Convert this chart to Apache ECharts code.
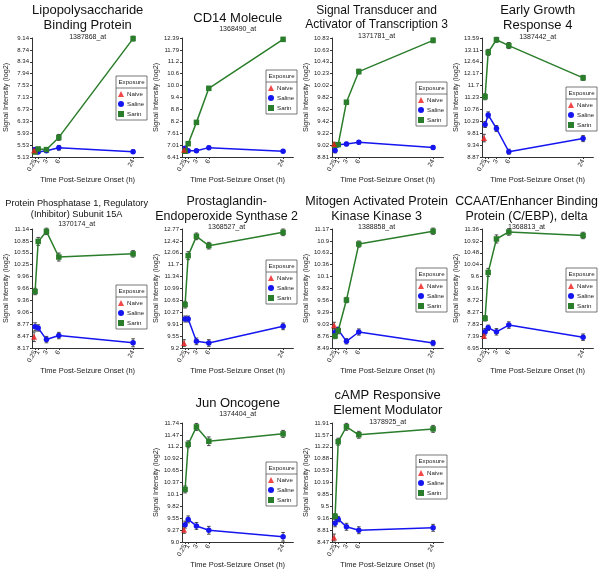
<!DOCTYPE html>
<html><head><meta charset="utf-8">
<script src="https://cdn.jsdelivr.net/npm/echarts@6/dist/echarts.min.js"></script>
<style>html,body{margin:0;padding:0;background:#fff}#c{width:600px;height:574px}</style>
</head><body><div id="c"></div>
<script>
// ---- shared x data ----
const naiveTimes = [0];
const groupTimes = [0.25, 1, 3, 6, 24];
const xTickValues = [0, 0.25, 1, 3, 6, 24];
const xTickLabels = ['0', '0.25', '1', '3', '6', '24'];
const seriesNames = ['Naive', 'Saline', 'Sarin'];

// ---- Panel 1: Lipopolysaccharide Binding Protein ----
const lbpTicks = ['5.13','5.53','5.93','6.33','6.73','7.13','7.53','7.94','8.34','8.74','9.14'];
const lbpNaive = [5.36];
const lbpSaline = [5.38, 5.30, 5.34, 5.44, 5.31];
const lbpSarin = [5.30, 5.40, 5.38, 5.79, 9.12];
const lbpNaiveErr = [0.06];
const lbpSalineErr = [0.06, 0.05, 0.05, 0.08, 0.06];
const lbpSarinErr = [0.06, 0.06, 0.06, 0.10, 0.08];

// ---- Panel 2: CD14 Molecule ----
const cd14Ticks = ['6.41','7.01','7.61','8.2','8.8','9.4','10.0','10.6','11.2','11.79','12.39'];
const cd14Naive = [6.78];
const cd14Saline = [6.85, 6.72, 6.72, 6.88, 6.70];
const cd14Sarin = [6.70, 7.08, 8.15, 9.86, 12.32];
const cd14NaiveErr = [0.08];
const cd14SalineErr = [0.08, 0.06, 0.06, 0.08, 0.07];
const cd14SarinErr = [0.08, 0.08, 0.08, 0.10, 0.10];

// ---- Panel 3: STAT3 ----
const stat3Ticks = ['8.81','9.02','9.22','9.42','9.62','9.82','10.02','10.23','10.43','10.63','10.83'];
const stat3Naive = [9.03];
const stat3Saline = [8.92, 9.02, 9.03, 9.06, 8.97];
const stat3Sarin = [9.01, 9.02, 9.74, 10.26, 10.79];
const stat3NaiveErr = [0.03];
const stat3SalineErr = [0.04, 0.03, 0.03, 0.03, 0.03];
const stat3SarinErr = [0.03, 0.03, 0.03, 0.04, 0.04];

// ---- Panel 4: Early Growth Response 4 ----
const egr4Ticks = ['8.87','9.34','9.81','10.29','10.76','11.23','11.7','12.17','12.64','13.11','13.59'];
const egr4Naive = [9.62];
const egr4Saline = [10.16, 10.54, 10.00, 9.08, 9.60];
const egr4Sarin = [11.26, 13.02, 13.52, 13.29, 12.01];
const egr4NaiveErr = [0.15];
const egr4SalineErr = [0.12, 0.12, 0.12, 0.10, 0.12];
const egr4SarinErr = [0.12, 0.12, 0.10, 0.12, 0.10];

// ---- Panel 5: PPP1R15A ----
const ppp1Ticks = ['8.17','8.47','8.77','9.06','9.36','9.66','9.96','10.25','10.55','10.85','11.14'];
const ppp1Naive = [8.45];
const ppp1Saline = [8.70, 8.67, 8.38, 8.48, 8.30];
const ppp1Sarin = [9.58, 10.83, 11.08, 10.44, 10.52];
const ppp1NaiveErr = [0.12];
const ppp1SalineErr = [0.10, 0.08, 0.08, 0.08, 0.10];
const ppp1SarinErr = [0.08, 0.10, 0.08, 0.10, 0.08];

// ---- Panel 6: Prostaglandin-Endoperoxide Synthase 2 ----
const ptgsTicks = ['9.2','9.55','9.91','10.27','10.63','10.99','11.34','11.7','12.06','12.42','12.77'];
const ptgsNaive = [9.35];
const ptgsSaline = [10.07, 10.07, 9.40, 9.35, 9.85];
const ptgsSarin = [10.50, 11.97, 12.55, 12.27, 12.67];
const ptgsNaiveErr = [0.10];
const ptgsSalineErr = [0.09, 0.09, 0.10, 0.10, 0.10];
const ptgsSarinErr = [0.10, 0.12, 0.10, 0.10, 0.10];

// ---- Panel 7: MAP3K3 ----
const map3kTicks = ['8.49','8.76','9.03','9.29','9.56','9.83','10.1','10.36','10.63','10.9','11.17'];
const map3kNaive = [9.00];
const map3kSaline = [8.84, 8.90, 8.64, 8.85, 8.60];
const map3kSarin = [8.76, 8.88, 9.57, 10.83, 11.12];
const map3kNaiveErr = [0.07];
const map3kSalineErr = [0.07, 0.06, 0.06, 0.07, 0.06];
const map3kSarinErr = [0.06, 0.07, 0.06, 0.07, 0.07];

// ---- Panel 8: CEBPD ----
const cebpdTicks = ['6.95','7.39','7.83','8.27','8.72','9.16','9.6','10.04','10.48','10.92','11.36'];
const cebpdNaive = [7.40];
const cebpdSaline = [7.55, 7.70, 7.55, 7.80, 7.35];
const cebpdSarin = [8.05, 9.75, 10.99, 11.25, 11.12];
const cebpdNaiveErr = [0.10];
const cebpdSalineErr = [0.12, 0.10, 0.12, 0.12, 0.12];
const cebpdSarinErr = [0.10, 0.15, 0.15, 0.12, 0.12];

// ---- Panel 9: Jun Oncogene ----
const junTicks = ['9.0','9.27','9.55','9.82','10.1','10.37','10.65','10.92','11.2','11.47','11.74'];
const junNaive = [9.28];
const junSaline = [9.40, 9.52, 9.37, 9.27, 9.12];
const junSarin = [10.21, 11.25, 11.65, 11.32, 11.49];
const junNaiveErr = [0.08];
const junSalineErr = [0.08, 0.08, 0.08, 0.09, 0.10];
const junSarinErr = [0.08, 0.08, 0.08, 0.10, 0.08];

// ---- Panel 10: cAMP Responsive Element Modulator ----
const cremTicks = ['8.47','8.81','9.16','9.5','9.85','10.19','10.53','10.88','11.22','11.57','11.91'];
const cremNaive = [8.60];
const cremSaline = [9.01, 9.13, 8.91, 8.81, 8.88];
const cremSarin = [9.21, 11.37, 11.80, 11.57, 11.74];
const cremNaiveErr = [0.10];
const cremSalineErr = [0.10, 0.08, 0.10, 0.10, 0.10];
const cremSarinErr = [0.08, 0.10, 0.10, 0.10, 0.10];

const panels = [
  {title:'Lipopolysaccharide\nBinding Protein', probe:'1387868_at', ticks:lbpTicks, naive:lbpNaive, saline:lbpSaline, sarin:lbpSarin, ne:lbpNaiveErr, se:lbpSalineErr, re:lbpSarinErr},
  {title:'CD14 Molecule', probe:'1368490_at', ticks:cd14Ticks, naive:cd14Naive, saline:cd14Saline, sarin:cd14Sarin, ne:cd14NaiveErr, se:cd14SalineErr, re:cd14SarinErr},
  {title:'Signal Transducer and\nActivator of Transcription 3', probe:'1371781_at', ticks:stat3Ticks, naive:stat3Naive, saline:stat3Saline, sarin:stat3Sarin, ne:stat3NaiveErr, se:stat3SalineErr, re:stat3SarinErr},
  {title:'Early Growth\nResponse 4', probe:'1387442_at', ticks:egr4Ticks, naive:egr4Naive, saline:egr4Saline, sarin:egr4Sarin, ne:egr4NaiveErr, se:egr4SalineErr, re:egr4SarinErr},
  {title:'Protein Phosphatase 1, Regulatory\n(Inhibitor) Subunit 15A', probe:'1370174_at', ticks:ppp1Ticks, naive:ppp1Naive, saline:ppp1Saline, sarin:ppp1Sarin, ne:ppp1NaiveErr, se:ppp1SalineErr, re:ppp1SarinErr},
  {title:'Prostaglandin-\nEndoperoxide Synthase 2', probe:'1368527_at', ticks:ptgsTicks, naive:ptgsNaive, saline:ptgsSaline, sarin:ptgsSarin, ne:ptgsNaiveErr, se:ptgsSalineErr, re:ptgsSarinErr},
  {title:'Mitogen Activated Protein\nKinase Kinase 3', probe:'1388858_at', ticks:map3kTicks, naive:map3kNaive, saline:map3kSaline, sarin:map3kSarin, ne:map3kNaiveErr, se:map3kSalineErr, re:map3kSarinErr},
  {title:'CCAAT/Enhancer Binding\nProtein (C/EBP), delta', probe:'1368813_at', ticks:cebpdTicks, naive:cebpdNaive, saline:cebpdSaline, sarin:cebpdSarin, ne:cebpdNaiveErr, se:cebpdSalineErr, re:cebpdSarinErr},
  {title:'Jun Oncogene', probe:'1374404_at', ticks:junTicks, naive:junNaive, saline:junSaline, sarin:junSarin, ne:junNaiveErr, se:junSalineErr, re:junSarinErr},
  {title:'cAMP Responsive\nElement Modulator', probe:'1378925_at', ticks:cremTicks, naive:cremNaive, saline:cremSaline, sarin:cremSarin, ne:cremNaiveErr, se:cremSalineErr, re:cremSarinErr}
];

// ---- layout (positions only) ----
const panelCol = [0,1,2,3,0,1,2,3,1,2];
const panelRow = [0,0,0,0,1,1,1,1,2,2];
const rowPlotTop = [38, 229, 423];
const rowHeaderCenter = [22, 213, 407];
const legendTop = [76, 70, 82, 87, 285, 260, 268, 268, 462, 455];
const PLOT_H = 119, PLOT_W = 111.4, COL_W = 150, PLOT_LEFT = 32;
const FONT = '"Liberation Sans", Arial, Helvetica, sans-serif';
const COLORS = {Naive:'#ee1c1c', Saline:'#1515f0', Sarin:'#2a7d2a'};
const AXIS_COLOR = '#333';

const mctx = document.createElement('canvas').getContext('2d');
function textWidth(s, size) {
  mctx.font = size + 'px "Liberation Sans", Arial, sans-serif';
  return Math.max.apply(null, s.split('\n').map(l => mctx.measureText(l).width));
}
function nearestLabel(v, vals, labels) {
  let b = 0;
  for (let k = 1; k < vals.length; k++) if (Math.abs(vals[k]-v) < Math.abs(vals[b]-v)) b = k;
  return labels[b];
}

const option = {animation:false, backgroundColor:'#fff', title:[], grid:[], xAxis:[], yAxis:[], series:[], legend:[], graphic:{elements:[]}};

panels.forEach((p, i) => {
  const col = panelCol[i], row = panelRow[i];
  const x0 = col * COL_W;
  const gl = x0 + PLOT_LEFT;
  const gt = rowPlotTop[row];
  const tmin = parseFloat(p.ticks[0]), tmax = parseFloat(p.ticks[p.ticks.length-1]);
  const tickVals = p.ticks.map((s, k) => tmin + k * (tmax - tmin) / (p.ticks.length - 1));

  option.grid.push({left:gl, top:gt, width:PLOT_W, height:PLOT_H, containLabel:false});
  option.xAxis.push({
    type:'value', gridIndex:i, min:-0.5, max:26.5,
    axisLine:{show:true, onZero:false, lineStyle:{color:AXIS_COLOR, width:1}},
    axisTick:{show:true, length:2, customValues:xTickValues, lineStyle:{color:AXIS_COLOR}},
    axisLabel:{show:true, customValues:xTickValues, rotate:60, fontSize:6.5, margin:3, color:'#222', fontFamily:FONT,
      formatter:v => nearestLabel(v, xTickValues, xTickLabels)},
    splitLine:{show:false},
    name:'Time Post-Seizure Onset (h)', nameLocation:'middle', nameGap:13,
    nameTextStyle:{fontSize:7.5, color:'#222', fontFamily:FONT}
  });
  option.yAxis.push({
    type:'value', gridIndex:i, min:tickVals[0], max:tickVals[tickVals.length-1],
    axisLine:{show:true, onZero:false, lineStyle:{color:AXIS_COLOR, width:1}},
    axisTick:{show:true, length:2, customValues:tickVals, lineStyle:{color:AXIS_COLOR}},
    axisLabel:{show:true, customValues:tickVals, fontSize:6, margin:3, color:'#222', fontFamily:FONT,
      formatter:v => nearestLabel(v, tickVals, p.ticks)},
    splitLine:{show:false},
    name:'Signal Intensity (log2)', nameLocation:'middle', nameGap:22,
    nameTextStyle:{fontSize:7.2, color:'#222', fontFamily:FONT}
  });

  // title block
  const fs = Math.min(13, 13 * 143 / textWidth(p.title, 13));
  const lh = fs * 1.15;
  const nLines = p.title.split('\n').length;
  const blockH = nLines * lh + 8;
  const tw = textWidth(p.title, fs);
  let cx = gl + PLOT_W / 2;
  cx = Math.max(x0 + 3 + tw/2, Math.min(cx, x0 + 148 - tw/2));
  option.title.push({
    text:p.title, subtext:p.probe, left:cx, top:rowHeaderCenter[row] - blockH/2,
    textAlign:'center', padding:0, itemGap:0,
    textStyle:{fontSize:fs, lineHeight:lh, fontWeight:'normal', color:'#111', fontFamily:FONT},
    subtextStyle:{fontSize:7, lineHeight:8, color:'#222', fontFamily:FONT}
  });

  // error bars
  const errData = [[naiveTimes[0], p.naive[0] - p.ne[0], p.naive[0] + p.ne[0]]];
  groupTimes.forEach((t, k) => {
    errData.push([t, p.saline[k] - p.se[k], p.saline[k] + p.se[k]]);
    errData.push([t, p.sarin[k] - p.re[k], p.sarin[k] + p.re[k]]);
  });
  option.series.push({
    type:'custom', xAxisIndex:i, yAxisIndex:i, silent:true, z:1,
    encode:{x:0, y:[1,2]}, data:errData,
    renderItem:(params, api) => {
      const x = api.value(0);
      const a = api.coord([x, api.value(2)]);
      const b = api.coord([x, api.value(1)]);
      const st = {stroke:'#222', lineWidth:0.8};
      return {type:'group', children:[
        {type:'line', shape:{x1:a[0], y1:a[1], x2:b[0], y2:b[1]}, style:st},
        {type:'line', shape:{x1:a[0]-1.8, y1:a[1], x2:a[0]+1.8, y2:a[1]}, style:st},
        {type:'line', shape:{x1:b[0]-1.8, y1:b[1], x2:b[0]+1.8, y2:b[1]}, style:st}
      ]};
    }
  });
  option.series.push({
    name:'Saline', type:'line', xAxisIndex:i, yAxisIndex:i, z:2,
    data:groupTimes.map((t, k) => [t, p.saline[k]]),
    symbol:'circle', symbolSize:5.5, showSymbol:true,
    lineStyle:{color:COLORS.Saline, width:1.5}, itemStyle:{color:COLORS.Saline}
  });
  option.series.push({
    name:'Sarin', type:'line', xAxisIndex:i, yAxisIndex:i, z:3,
    data:groupTimes.map((t, k) => [t, p.sarin[k]]),
    symbol:'rect', symbolSize:5.5, showSymbol:true,
    lineStyle:{color:COLORS.Sarin, width:1.5}, itemStyle:{color:COLORS.Sarin}
  });
  option.series.push({
    name:'Naive', type:'scatter', xAxisIndex:i, yAxisIndex:i, z:4,
    data:naiveTimes.map((t, k) => [t, p.naive[k]]),
    symbol:'triangle', symbolSize:6, itemStyle:{color:COLORS.Naive}
  });

  // legend box
  const bx = x0 + 116, by = legendTop[i], bw = 31, bh = 44;
  option.graphic.elements.push(
    {type:'rect', shape:{x:bx, y:by, width:bw, height:bh}, style:{fill:'#fff', stroke:'#555', lineWidth:0.8}, z:10},
    {type:'line', shape:{x1:bx, y1:by+12, x2:bx+bw, y2:by+12}, style:{stroke:'#555', lineWidth:0.8}, z:10},
    {type:'text', x:bx + bw/2, y:by + 6.5, z:11, style:{text:'Exposure', fontSize:6.2, fontFamily:FONT, fill:'#222', align:'center', verticalAlign:'middle'}}
  );
  option.legend.push({
    orient:'vertical', left:bx + 2, top:by + 15, itemWidth:6, itemHeight:6, itemGap:4, padding:0,
    selectedMode:false, z:20,
    textStyle:{fontSize:6.2, color:'#222', fontFamily:FONT, padding:[0,0,0,-2]},
    data:[{name:'Naive', icon:'triangle'}, {name:'Saline', icon:'circle'}, {name:'Sarin', icon:'rect'}]
  });
});

const chart = echarts.init(document.getElementById('c'), null, {renderer:'canvas'});
chart.setOption(option);
</script>
</body></html>
